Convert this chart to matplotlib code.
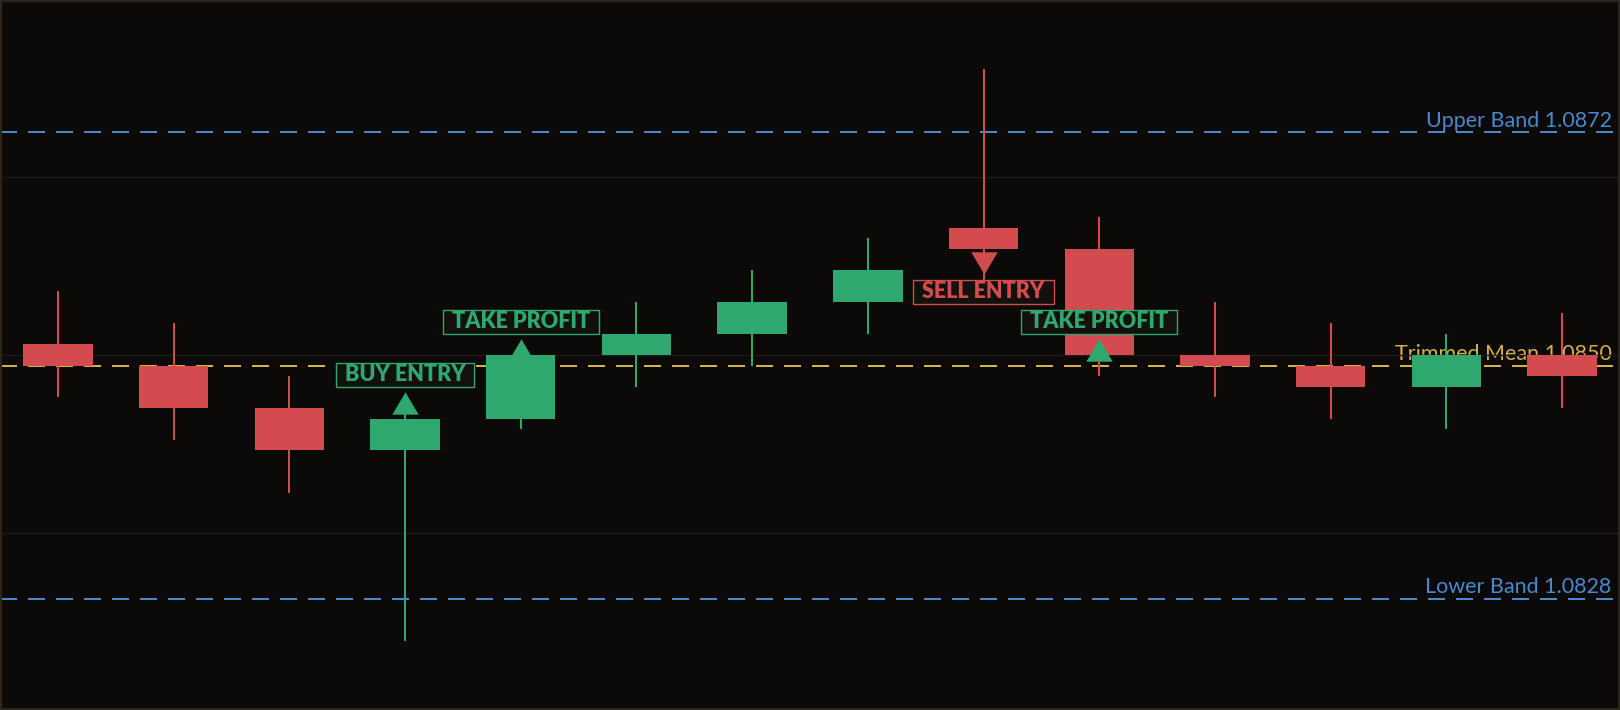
import matplotlib
matplotlib.use("Agg")
import matplotlib.pyplot as plt
from matplotlib.patches import Rectangle
from matplotlib.path import Path
from matplotlib.ticker import LinearLocator

# candle data (EUR/USD style prices)
opens = [1.0852, 1.0850, 1.0846, 1.0842, 1.0845, 1.0851, 1.0853, 1.0856, 1.0863, 1.0861, 1.0851, 1.0850, 1.0848, 1.0851]
highs = [1.0857, 1.0854, 1.0849, 1.0846, 1.0852, 1.0856, 1.0859, 1.0862, 1.0878, 1.0864, 1.0856, 1.0854, 1.0853, 1.0855]
lows = [1.0847, 1.0843, 1.0838, 1.0824, 1.0844, 1.0848, 1.0850, 1.0853, 1.0858, 1.0849, 1.0847, 1.0845, 1.0844, 1.0846]
closes = [1.0850, 1.0846, 1.0842, 1.0845, 1.0851, 1.0853, 1.0856, 1.0859, 1.0861, 1.0851, 1.0850, 1.0848, 1.0851, 1.0849]

upper_band = 1.0872
trimmed_mean = 1.0850
lower_band = 1.0828

# trade signals
signal_idx = [3, 4, 8, 9]
signal_price = [1.08465, 1.08515, 1.08597, 1.08515]
signal_side = ["up", "up", "down", "up"]
signal_text = ["BUY ENTRY", "TAKE PROFIT", "SELL ENTRY", "TAKE PROFIT"]

BG = "#0b0a08"
RED = "#d24b4e"
GREEN = "#2ea86e"
BLUE = "#4a88cc"
GOLD = "#d4b04a"
LABEL_FONT = ["Lato", "DejaVu Sans"]


def tag_box(x0, y0, width, height, mutation_size):
    # fixed padding in pixels: wide left/right, tight top/bottom
    cy = y0 + height / 2
    l, r = x0 - 9, x0 + width + 9
    b, t = cy - 12, cy + 12
    return Path([(l, b), (r, b), (r, t), (l, t), (l, b)], closed=True)


fig = plt.figure(figsize=(16.2, 7.1), dpi=100, facecolor=BG)
ax = fig.add_axes([0, 0, 1, 1])
ax.set_facecolor(BG)

n = len(opens)
x = list(range(n))
ax.set_xlim(-0.5, n - 0.5)
rng = max(highs) - min(lows)
ax.set_ylim(min(lows) - 0.12 * rng, max(highs) + 0.12 * rng)

ax.yaxis.set_major_locator(LinearLocator(5))
ax.set_xticks([])
ax.grid(axis="y", color="#1c1a16", linewidth=1.0, zorder=0)
ax.tick_params(left=False, labelleft=False)
for s in ax.spines.values():
    s.set_visible(False)

# bands
dash = (0, (8.5, 5.5))
for level, col, name in [(upper_band, BLUE, "Upper Band"),
                         (trimmed_mean, GOLD, "Trimmed Mean"),
                         (lower_band, BLUE, "Lower Band")]:
    ax.axhline(level, color=col, linewidth=1.44, linestyle=dash, zorder=1)
    ax.annotate(f"{name} {level:.4f}", xy=(1, level), xycoords=("axes fraction", "data"),
                xytext=(-6, 1), textcoords="offset points", ha="right", va="bottom",
                color=col, fontsize=15.5, family=LABEL_FONT, zorder=1)

# candles
colors = [GREEN if c >= o else RED for o, c in zip(opens, closes)]
ax.vlines(x, lows, highs, colors=colors, linewidth=1.44, zorder=2)
bottoms = [min(o, c) for o, c in zip(opens, closes)]
heights = [abs(c - o) for o, c in zip(opens, closes)]
ax.bar(x, heights, bottom=bottoms, width=0.6, color=colors, linewidth=0, zorder=3)

# signal markers and labels
tri_up = [(-1, -0.85), (1, -0.85), (0, 0.85), (-1, -0.85)]
tri_down = [(-1, 0.85), (1, 0.85), (0, -0.85), (-1, 0.85)]
for i, p, side, txt in zip(signal_idx, signal_price, signal_side, signal_text):
    col = RED if side == "down" else GREEN
    ax.plot(i, p, marker=tri_up if side == "up" else tri_down, markersize=19,
            color=col, markeredgewidth=0, linestyle="none", zorder=4)
    off = 20 if side == "up" else -21
    ax.annotate(txt, xy=(i, p), xytext=(0, off), textcoords="offset points",
                ha="center", va="center", color=col, fontsize=15.5, fontweight="heavy",
                family=LABEL_FONT, zorder=5,
                bbox=dict(boxstyle=tag_box, facecolor="#12110e",
                          edgecolor=col, linewidth=1.0))

# outer frame
fig.patches.append(Rectangle((0, 0), 1, 1, transform=fig.transFigure, fill=False,
                             edgecolor="#2b2619", linewidth=3, zorder=10))

fig.savefig("out.png", dpi=100, facecolor=BG)
